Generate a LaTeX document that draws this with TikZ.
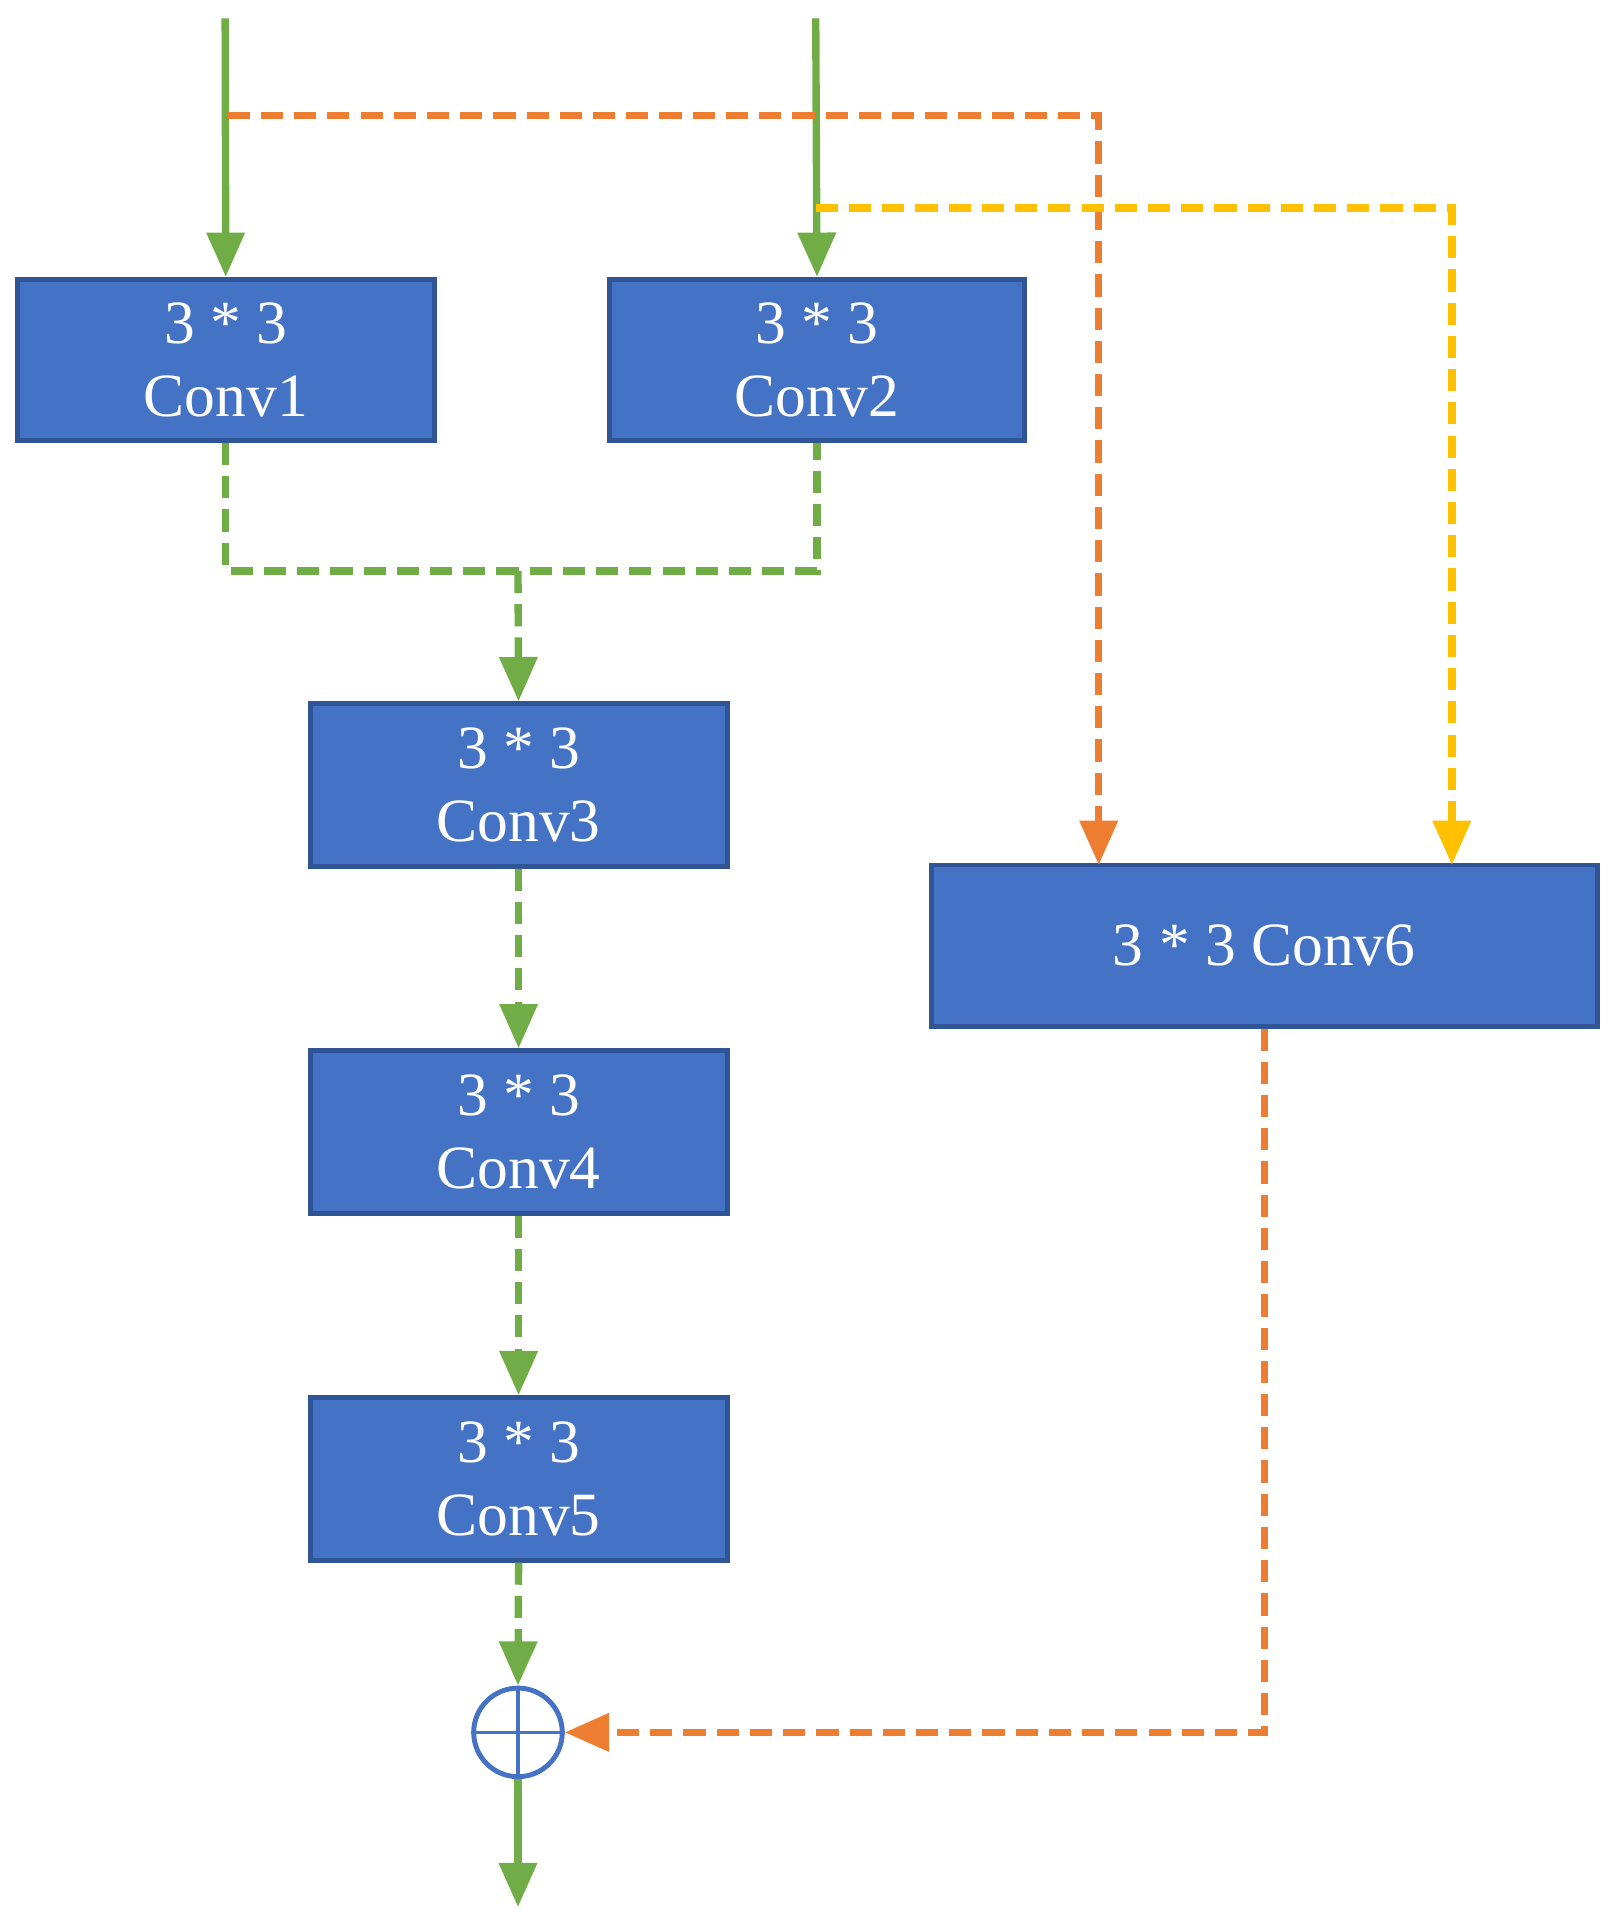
\documentclass[tikz,border=0pt]{standalone}
\usepackage{fontspec}
\setmainfont{Liberation Serif}
\usetikzlibrary{arrows.meta}
\definecolor{bfill}{HTML}{4472C4}
\definecolor{bdraw}{HTML}{2F5597}
\definecolor{gr}{HTML}{70AD47}
\definecolor{orr}{HTML}{ED7D31}
\definecolor{ye}{HTML}{FFC000}
\begin{document}
\begin{tikzpicture}[x=1pt,y=-1pt,
 box/.style={draw=bdraw,fill=bfill,line width=4pt,text=white,font=\fontsize{50}{60}\selectfont,align=center,inner sep=0pt},
 ar/.style={line width=6pt,-{Triangle[length=36pt,width=30pt]}},
 dsh/.style={dash pattern=on 18pt off 9pt}]
\useasboundingbox (0,0) rectangle (1318,1567);
\node[box,minimum width=339pt,minimum height=131pt] (c1) at (183.5,292.5) {3 * 3\\Conv1};
\node[box,minimum width=338pt,minimum height=131pt] (c2) at (664,292.5) {3 * 3\\Conv2};
\node[box,minimum width=339pt,minimum height=132pt] (c3) at (421.5,638) {3 * 3\\Conv3};
\node[box,minimum width=339pt,minimum height=132pt] (c4) at (421.5,920) {3 * 3\\Conv4};
\node[box,minimum width=339pt,minimum height=132pt] (c5) at (421.5,1202) {3 * 3\\Conv5};
\node[box,minimum width=541pt,minimum height=131pt] (c6) at (1027.5,768.5) {3 * 3 Conv6};
\node[circle,draw=bfill,line width=4pt,minimum size=72pt,inner sep=0pt] (s) at (421,1408) {};
\draw[bfill,line width=3pt] (s.north)--(s.south) (s.west)--(s.east);
\coordinate (i1) at (183,15); \coordinate (i2) at (663,15);
\coordinate (o) at (421,1550); \coordinate (m) at (421,464);
\draw[ar,gr] (i1) -- (c1.north);
\draw[ar,gr] (i2) -- (c2.north);
\draw[ar,orr,dsh] (185,94) -| (893,703);
\draw[ar,ye,dsh] (663,169) -| (1180,703);
\draw[gr,dsh,line width=6pt] (c1.south) |- (m) -| (c2.south);
\draw[ar,gr,dsh] (m) -- (c3.north);
\draw[ar,gr,dsh] (c3.south) -- (c4.north);
\draw[ar,gr,dsh] (c4.south) -- (c5.north);
\draw[ar,gr,dsh] (c5.south) -- (s.north);
\draw[ar,orr,dsh] (c6.south) |- (s.east);
\draw[ar,gr] (s.south) -- (o);
\end{tikzpicture}
\end{document}
